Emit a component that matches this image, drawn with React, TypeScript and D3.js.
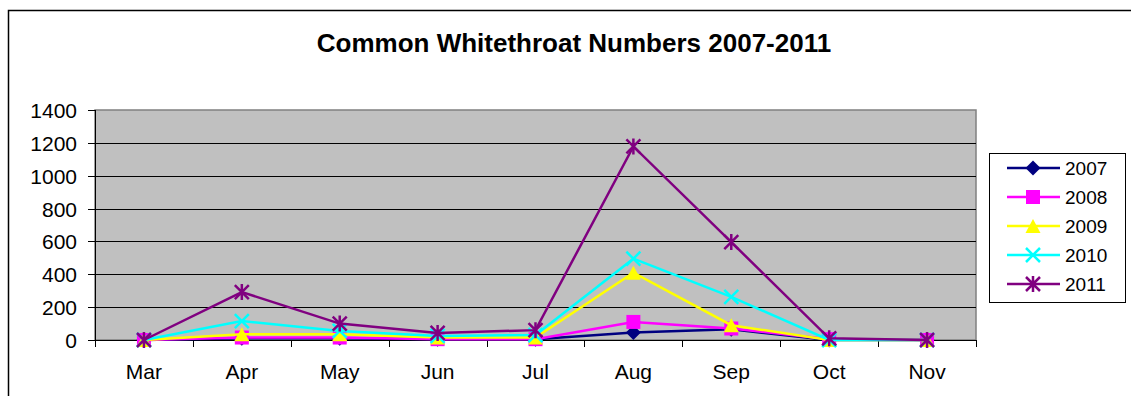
import React, { useEffect, useRef } from "react";
import * as d3 from "d3";

const months = ["Mar", "Apr", "May", "Jun", "Jul", "Aug", "Sep", "Oct", "Nov"];
const years = ["2007", "2008", "2009", "2010", "2011"];
const v2007 = [0, 10, 10, 5, 5, 45, 65, 0, 0];
const v2008 = [0, 15, 15, 5, 5, 110, 70, 5, 0];
const v2009 = [0, 35, 35, 15, 15, 410, 90, 0, 0];
const v2010 = [0, 115, 55, 25, 30, 495, 262, 0, 0];
const v2011 = [0, 292, 100, 43, 60, 1178, 596, 10, 0];
const yTicks = [0, 200, 400, 600, 800, 1000, 1200, 1400];
const colors = ["#000080", "#FF00FF", "#FFFF00", "#00FFFF", "#800080"];
const markers = ["diamond", "square", "triangle", "x", "star"];

const App: React.FC = () => {
  const svgRef = useRef<SVGSVGElement | null>(null);

  useEffect(() => {
    if (!svgRef.current) return;
    const svg = d3.select(svgRef.current);
    svg.selectAll("*").remove();

    const font = "'Liberation Sans', Arial, sans-serif";
    const series = [v2007, v2008, v2009, v2010, v2011];
    const plot = { left: 95, right: 976, top: 110, bottom: 340 };

    // chart border
    svg.append("rect")
      .attr("x", 8.5).attr("y", 10.5)
      .attr("width", 1300).attr("height", 500)
      .attr("fill", "#fff").attr("stroke", "#000").attr("stroke-width", 1.5);

    svg.append("text")
      .attr("x", 574).attr("y", 52)
      .attr("text-anchor", "middle")
      .style("font-family", font).style("font-size", "26px").style("font-weight", "bold")
      .text("Common Whitethroat Numbers 2007-2011");

    const x = d3.scaleBand<string>().domain(months).range([plot.left, plot.right]);
    const y = d3.scaleLinear().domain([0, 1400]).range([plot.bottom, plot.top]);

    svg.append("rect")
      .attr("x", plot.left).attr("y", plot.top)
      .attr("width", plot.right - plot.left).attr("height", plot.bottom - plot.top)
      .attr("fill", "#C0C0C0").attr("stroke", "#808080").attr("stroke-width", 1.5);

    // gridlines
    svg.append("g").selectAll("line")
      .data(yTicks.slice(1, -1))
      .enter().append("line")
      .attr("x1", plot.left).attr("x2", plot.right)
      .attr("y1", d => Math.round(y(d)) + 0.5).attr("y2", d => Math.round(y(d)) + 0.5)
      .attr("stroke", "#000").attr("stroke-width", 1);

    // y axis
    const yAxis = svg.append("g");
    yAxis.append("line")
      .attr("x1", plot.left + 0.5).attr("x2", plot.left + 0.5)
      .attr("y1", plot.top).attr("y2", plot.bottom)
      .attr("stroke", "#000");
    yTicks.forEach(t => {
      const yy = Math.round(y(t)) + 0.5;
      yAxis.append("line")
        .attr("x1", plot.left - 7).attr("x2", plot.left)
        .attr("y1", yy).attr("y2", yy).attr("stroke", "#000");
      yAxis.append("text")
        .attr("x", plot.left - 18).attr("y", yy + 7.5)
        .attr("text-anchor", "end")
        .style("font-family", font).style("font-size", "21px")
        .text(t);
    });

    // x axis
    const xAxis = svg.append("g");
    xAxis.append("line")
      .attr("x1", plot.left).attr("x2", plot.right)
      .attr("y1", plot.bottom + 0.5).attr("y2", plot.bottom + 0.5)
      .attr("stroke", "#000");
    const bounds = months.map(m => x(m)!).concat([plot.right]);
    bounds.forEach(b => {
      xAxis.append("line")
        .attr("x1", Math.round(b) + 0.5).attr("x2", Math.round(b) + 0.5)
        .attr("y1", plot.bottom).attr("y2", plot.bottom + 7)
        .attr("stroke", "#000");
    });
    months.forEach(m => {
      xAxis.append("text")
        .attr("x", x(m)! + x.bandwidth() / 2).attr("y", plot.bottom + 39)
        .attr("text-anchor", "middle")
        .style("font-family", font).style("font-size", "21px")
        .text(m);
    });

    const drawMarker = (g: d3.Selection<SVGGElement, unknown, null, undefined>, kind: string, color: string) => {
      if (kind === "diamond") {
        g.append("path").attr("d", "M0,-7.5L7.5,0L0,7.5L-7.5,0Z").attr("fill", color);
      } else if (kind === "square") {
        g.append("rect").attr("x", -7).attr("y", -7).attr("width", 14).attr("height", 14).attr("fill", color);
      } else if (kind === "triangle") {
        g.append("path").attr("d", "M0,-7L7.5,7L-7.5,7Z").attr("fill", color);
      } else if (kind === "x") {
        g.append("path").attr("d", "M-7,-7L7,7M-7,7L7,-7").attr("stroke", color).attr("stroke-width", 2.5);
      } else {
        g.append("path").attr("d", "M-7,-7L7,7M-7,7L7,-7M0,-8L0,8").attr("stroke", color).attr("stroke-width", 2.5);
      }
    };

    const line = d3.line<number>()
      .x((_, i) => x(months[i])! + x.bandwidth() / 2)
      .y(d => y(d));

    series.forEach((vals, si) => {
      svg.append("path")
        .attr("d", line(vals)!)
        .attr("fill", "none")
        .attr("stroke", colors[si])
        .attr("stroke-width", 2.5);
      vals.forEach((v, i) => {
        const g = svg.append("g")
          .attr("transform", `translate(${x(months[i])! + x.bandwidth() / 2},${y(v)})`);
        drawMarker(g, markers[si], colors[si]);
      });
    });

    // legend
    const legend = svg.append("g");
    legend.append("rect")
      .attr("x", 989.5).attr("y", 153.5).attr("width", 136).attr("height", 149)
      .attr("fill", "#fff").attr("stroke", "#000");
    years.forEach((yr, i) => {
      const ly = 168 + i * 29;
      legend.append("line")
        .attr("x1", 1007).attr("x2", 1060).attr("y1", ly).attr("y2", ly)
        .attr("stroke", colors[i]).attr("stroke-width", 2.5);
      const g = legend.append("g").attr("transform", `translate(1033,${ly})`);
      drawMarker(g, markers[i], colors[i]);
      legend.append("text")
        .attr("x", 1065).attr("y", ly + 7)
        .style("font-family", font).style("font-size", "19px")
        .text(yr);
    });
  }, []);

  return (
    <svg ref={svgRef} width={1131} height={396}
      style={{ position: "absolute", left: 0, top: 0 }} />
  );
};

export default App;
